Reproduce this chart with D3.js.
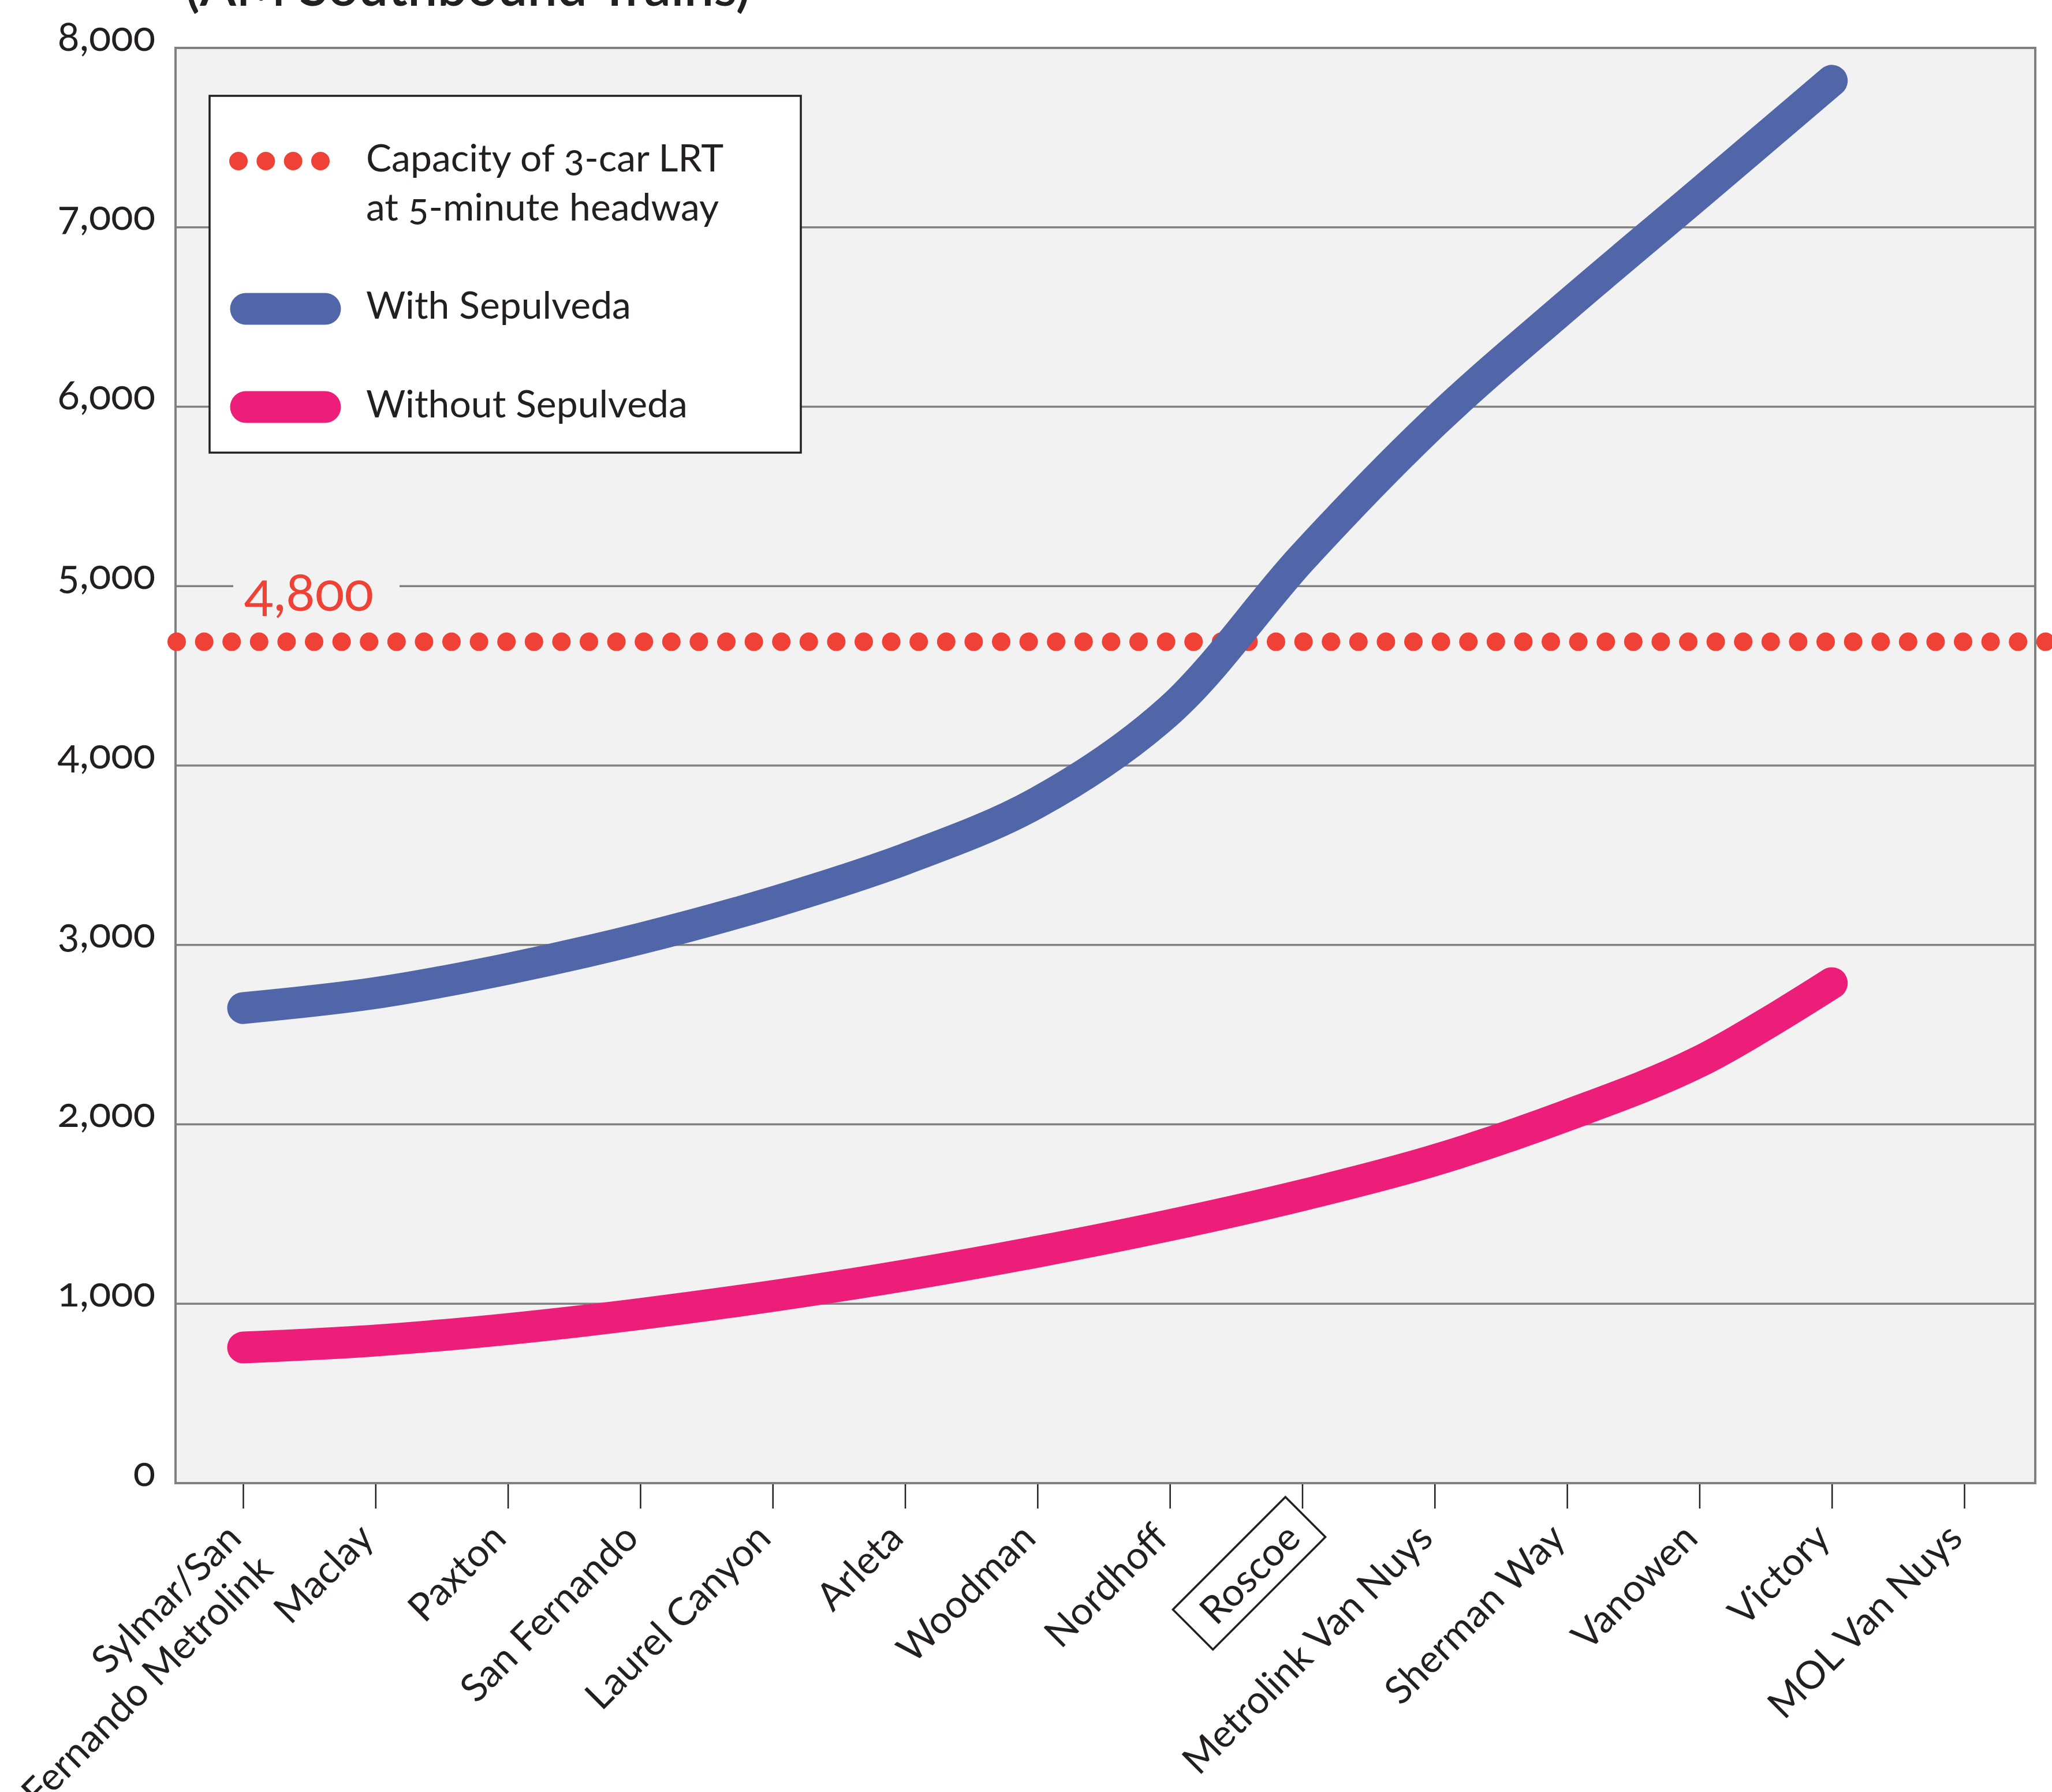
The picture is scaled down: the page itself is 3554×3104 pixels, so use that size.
<!DOCTYPE html>
<html>
<head>
<meta charset="utf-8">
<script src="https://cdn.jsdelivr.net/npm/d3@7"></script>
<style>
body { margin: 0; background: #fff; }
text { font-family: Lato, "Noto Sans", sans-serif; fill: #231f20; }
.onum { font-variant-numeric: oldstyle-nums; }
</style>
</head>
<body>
<div class="chart"></div>
<script>
// stations, north to south
const stations = [
    'Sylmar/San\nFernando Metrolink', 'Maclay', 'Paxton', 'San Fernando',
    'Laurel Canyon', 'Arleta', 'Woodman', 'Nordhoff', 'Roscoe',
    'Metrolink Van Nuys', 'Sherman Way', 'Vanowen', 'Victory', 'MOL Van Nuys'
];
const withSepulveda = [2648, 2732, 2867, 3035, 3237, 3479, 3794, 4309, 5158, 5915, 6565, 7189, 7817];
const withoutSepulveda = [756, 795, 859, 943, 1043, 1158, 1290, 1438, 1605, 1800, 2050, 2350, 2787];
const yTicks = [0, 1000, 2000, 3000, 4000, 5000, 6000, 7000, 8000];
const capacityLine = 4690;
const capacityLabel = '4,800';
const highlighted = 'Roscoe';
const legendLines = ['Capacity of 3-car LRT', 'at 5-minute headway'];
const seriesNames = ['With Sepulveda', 'Without Sepulveda'];
const title = '(AM Southbound Trains)';

const width = 3554;
const height = 3104;
const plot = {left: 304, right: 3525, top: 83, bottom: 2569};

const blue = '#5066a8';
const pink = '#ed1e79';
const red = '#ef4136';
const grey = '#808080';
const ink = '#231f20';

let svg = d3
    .select('.chart')
    .append('svg')
    .attr('width', width)
    .attr('height', height);

const xScale = d3.scalePoint()
    .domain(stations)
    .range([421, 3402]);

const yScale = d3.scaleLinear()
    .domain([0, 8000])
    .range([plot.bottom, plot.top]);

// title, cut off at the top edge
svg.append('text')
    .attr('x', 321)
    .attr('y', 10)
    .attr('font-size', 92)
    .attr('font-weight', 600)
    .text(title);

// plot background and frame
svg.append('rect')
    .attr('x', plot.left)
    .attr('y', plot.top)
    .attr('width', plot.right - plot.left)
    .attr('height', plot.bottom - plot.top)
    .attr('fill', '#f2f2f2')
    .attr('stroke', grey)
    .attr('stroke-width', 4);

svg.append('g')
    .selectAll('line')
    .data(yTicks.slice(1, -1))
    .enter()
    .append('line')
    .attr('x1', plot.left)
    .attr('x2', plot.right)
    .attr('y1', d => yScale(d))
    .attr('y2', d => yScale(d))
    .attr('stroke', grey)
    .attr('stroke-width', 3.5);

// y axis labels
let y_container = svg.append('g')
    .attr('transform', 'translate(269,0)')
    .call(d3.axisLeft(yScale).tickValues(yTicks).tickSize(0).tickPadding(0).tickFormat(d3.format(',')));

y_container.select('.domain').remove();
y_container.selectAll('text')
    .attr('class', 'onum')
    .attr('dy', 4)
    .attr('font-size', 71)
    .attr('font-family', null)
    .attr('fill', ink);

// x axis with ticks below the frame
let x_container = svg.append('g')
    .attr('transform', `translate(0, ${plot.bottom + 2})`)
    .call(d3.axisBottom(xScale).tickSize(42).tickPadding(0));

x_container.select('.domain').remove();
x_container.selectAll('.tick line')
    .attr('stroke', ink)
    .attr('stroke-width', 2.5);

const labelPos = 'translate(0,97) rotate(-45)';

x_container.selectAll('.tick text').each(function(d) {
    const t = d3.select(this);
    t.text(null)
        .attr('x', 0)
        .attr('y', 0)
        .attr('dy', null)
        .attr('font-size', 67)
        .attr('font-family', null)
        .attr('fill', ink)
        .attr('text-anchor', 'end')
        .attr('transform', labelPos);
    d.split('\n').forEach((line, i) => {
        t.append('tspan').attr('x', 0).attr('dy', i ? 77 : 0).text(line);
    });
    if (d === highlighted) {
        const len = this.getComputedTextLength();
        d3.select(this.parentNode)
            .insert('rect', 'text')
            .attr('transform', labelPos)
            .attr('x', -len - 32)
            .attr('y', -74)
            .attr('width', len + 64)
            .attr('height', 98)
            .attr('fill', 'none')
            .attr('stroke', ink)
            .attr('stroke-width', 3.5);
    }
});

// capacity line
svg.append('rect')
    .attr('x', 404)
    .attr('y', yScale(5000) - 6)
    .attr('width', 288)
    .attr('height', 12)
    .attr('fill', '#f2f2f2');

svg.append('text')
    .attr('class', 'onum')
    .attr('x', 423)
    .attr('y', 1058)
    .attr('font-size', 94)
    .style('fill', red)
    .text(capacityLabel);

svg.append('line')
    .attr('x1', 306)
    .attr('x2', 3545)
    .attr('y1', yScale(capacityLine))
    .attr('y2', yScale(capacityLine))
    .attr('stroke', red)
    .attr('stroke-width', 32)
    .attr('stroke-linecap', 'round')
    .attr('stroke-dasharray', '0,47.6');

// ridership lines
const line = d3.line()
    .x((d, i) => xScale(stations[i]))
    .y(d => yScale(d))
    .curve(d3.curveCatmullRom.alpha(0.5));

svg.append('path')
    .datum(withoutSepulveda)
    .attr('d', line)
    .attr('fill', 'none')
    .attr('stroke', pink)
    .attr('stroke-width', 55)
    .attr('stroke-linecap', 'round');

svg.append('path')
    .datum(withSepulveda)
    .attr('d', line)
    .attr('fill', 'none')
    .attr('stroke', blue)
    .attr('stroke-width', 55)
    .attr('stroke-linecap', 'round');

// legend
const legend = svg.append('g');

legend.append('rect')
    .attr('x', 363)
    .attr('y', 166)
    .attr('width', 1024)
    .attr('height', 618)
    .attr('fill', '#fff')
    .attr('stroke', ink)
    .attr('stroke-width', 3.5);

legend.append('line')
    .attr('x1', 413)
    .attr('x2', 555)
    .attr('y1', 279)
    .attr('y2', 279)
    .attr('stroke', red)
    .attr('stroke-width', 32)
    .attr('stroke-linecap', 'round')
    .attr('stroke-dasharray', '0,47.33');

legend.selectAll('.cap')
    .data(legendLines)
    .enter()
    .append('text')
    .attr('class', 'onum')
    .attr('x', 634)
    .attr('y', (d, i) => 297 + i * 85)
    .attr('font-size', 66)
    .text(d => d);

legend.selectAll('.swatch')
    .data(seriesNames)
    .enter()
    .append('line')
    .attr('x1', 426)
    .attr('x2', 563)
    .attr('y1', (d, i) => 535 + i * 170)
    .attr('y2', (d, i) => 535 + i * 170)
    .attr('stroke', (d, i) => i ? pink : blue)
    .attr('stroke-width', 55)
    .attr('stroke-linecap', 'round');

legend.selectAll('.name')
    .data(seriesNames)
    .enter()
    .append('text')
    .attr('x', 634)
    .attr('y', (d, i) => 552 + i * 171)
    .attr('font-size', 66)
    .text(d => d);
</script>
</body>
</html>
